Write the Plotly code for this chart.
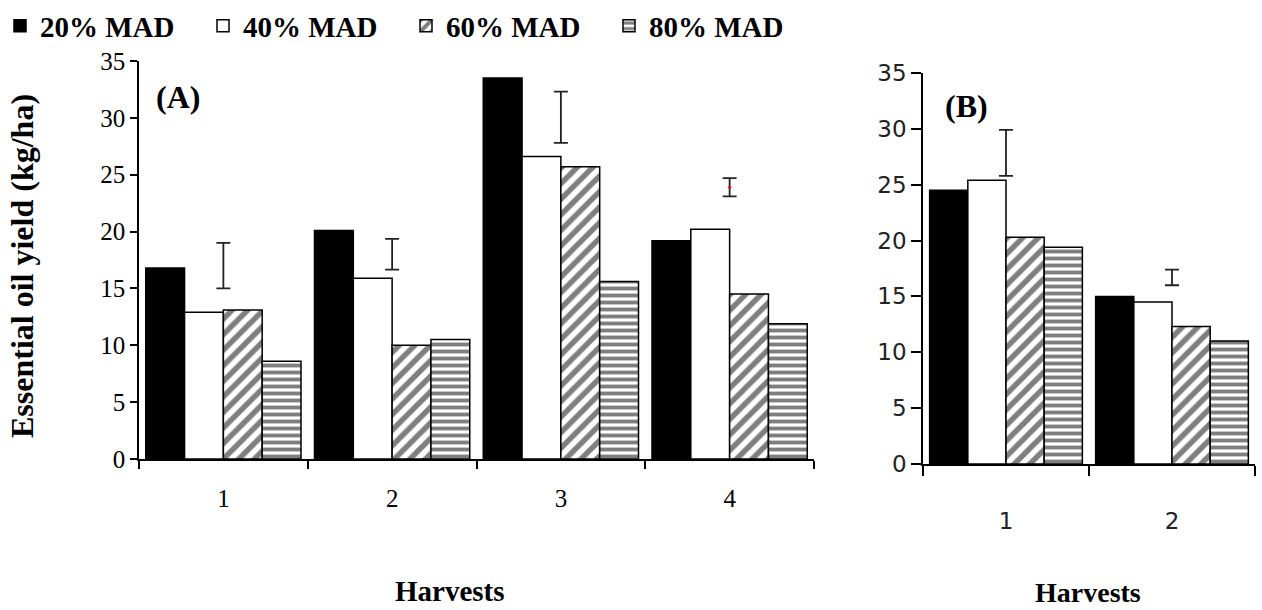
import plotly.graph_objects as go

# ---------------- data ----------------
series_names = ["20% MAD", "40% MAD", "60% MAD", "80% MAD"]

harvests_a = ["1", "2", "3", "4"]
mad20_a = [16.8, 20.1, 33.5, 19.2]
mad40_a = [12.9, 15.9, 26.6, 20.2]
mad60_a = [13.1, 10.0, 25.7, 14.5]
mad80_a = [8.6, 10.5, 15.6, 11.9]
lsd_center_a = [17.0, 18.0, 30.05, 23.9]
lsd_half_a = [2.0, 1.35, 2.25, 0.8]

harvests_b = ["1", "2"]
mad20_b = [24.5, 15.0]
mad40_b = [25.4, 14.5]
mad60_b = [20.3, 12.3]
mad80_b = [19.4, 11.0]
lsd_center_b = [27.85, 16.7]
lsd_half_b = [2.05, 0.7]

y_ticks = [0, 5, 10, 15, 20, 25, 30, 35]

# ---------------- styles ----------------
W, H = 1262, 610
styles = [
    dict(color="black", pattern=dict(shape="")),
    dict(color="white", pattern=dict(shape="")),
    dict(color="white", pattern=dict(shape="/", fgcolor="black", bgcolor="white", size=11, solidity=0.5)),
    dict(color="white", pattern=dict(shape="-", fgcolor="black", bgcolor="white", size=7, solidity=0.55)),
]

fig = go.Figure()
vals_a = [mad20_a, mad40_a, mad60_a, mad80_a]
vals_b = [mad20_b, mad40_b, mad60_b, mad80_b]

for i, name in enumerate(series_names):
    st = styles[i]
    fig.add_trace(go.Bar(
        x=harvests_a, y=vals_a[i], name=name, legendgroup=name,
        marker=dict(color=st["color"], pattern=st["pattern"],
                    line=dict(color="black", width=1.5)),
        xaxis="x", yaxis="y", showlegend=True,
    ))
for i, name in enumerate(series_names):
    st = styles[i]
    fig.add_trace(go.Bar(
        x=harvests_b, y=vals_b[i], name=name, legendgroup=name,
        marker=dict(color=st["color"], pattern=st["pattern"],
                    line=dict(color="black", width=1.5)),
        xaxis="x2", yaxis="y2", showlegend=False,
    ))

# LSD error bars
fig.add_trace(go.Scatter(
    x=harvests_a, y=lsd_center_a, mode="markers",
    marker=dict(size=3, color=["rgba(0,0,0,0)", "rgba(0,0,0,0)", "rgba(0,0,0,0)", "red"]),
    error_y=dict(type="data", array=lsd_half_a, color="#222222", thickness=1.8, width=7),
    xaxis="x", yaxis="y", showlegend=False, hoverinfo="skip",
))
fig.add_trace(go.Scatter(
    x=harvests_b, y=lsd_center_b, mode="markers",
    marker=dict(size=3, color="rgba(0,0,0,0)"),
    error_y=dict(type="data", array=lsd_half_b, color="#222222", thickness=1.8, width=7),
    xaxis="x2", yaxis="y2", showlegend=False, hoverinfo="skip",
))

serif = "Liberation Serif"
axis_common = dict(showline=True, linecolor="black", linewidth=1.5, showgrid=False,
                   zeroline=False, ticks="outside", tickcolor="black", tickwidth=1.5,
                   automargin=False)

fig.update_layout(
    width=W, height=H,
    margin=dict(l=0, r=0, t=0, b=0, autoexpand=False),
    paper_bgcolor="white", plot_bgcolor="white",
    barmode="group", bargap=0.08, bargroupgap=0,
    showlegend=True,
    legend=dict(orientation="h", x=0, xanchor="left", y=1 - 26 / H, yanchor="middle",
                font=dict(family=serif, size=29, color="black", weight="bold"),
                entrywidth=158, entrywidthmode="pixels",
                itemclick=False, itemdoubleclick=False, bgcolor="rgba(0,0,0,0)"),
    xaxis=dict(domain=[139 / W, 814 / W], anchor="y", type="category",
               tickson="boundaries", ticklen=8,
               tickfont=dict(family=serif, size=25, color="black"),
               ticklabelstandoff=16, **axis_common),
    yaxis=dict(domain=[(H - 459) / H, (H - 61) / H], anchor="x", range=[0, 35],
               tickvals=y_ticks, ticklen=7,
               tickfont=dict(family=serif, size=25, color="black"), **axis_common),
    xaxis2=dict(domain=[923 / W, 1255 / W], anchor="y2", type="category",
                tickson="boundaries", ticklen=10,
                tickfont=dict(family="DejaVu Sans", size=23, color="#222222"),
                ticklabelstandoff=36, **axis_common),
    yaxis2=dict(domain=[(H - 464) / H, (H - 73) / H], anchor="x2", range=[0, 35],
                tickvals=y_ticks, ticklen=10,
                tickfont=dict(family="DejaVu Sans", size=23, color="#222222"), **axis_common),
    annotations=[
        dict(text="<b>Essential oil yield (kg/ha)</b>", x=22 / W, y=1 - 266 / H,
             xref="paper", yref="paper", textangle=-90, showarrow=False,
             font=dict(family=serif, size=32, color="black"), xanchor="center", yanchor="middle"),
        dict(text="<b>Harvests</b>", x=450 / W, y=1 - 591 / H, xref="paper", yref="paper",
             showarrow=False, font=dict(family=serif, size=29, color="black"),
             xanchor="center", yanchor="middle"),
        dict(text="<b>Harvests</b>", x=1088 / W, y=1 - 592 / H, xref="paper", yref="paper",
             showarrow=False, font=dict(family=serif, size=28, color="black"),
             xanchor="center", yanchor="middle"),
        dict(text="<b>(A)</b>", x=178 / W, y=1 - 97 / H, xref="paper", yref="paper",
             showarrow=False, font=dict(family=serif, size=32, color="black"),
             xanchor="center", yanchor="middle"),
        dict(text="<b>(B)</b>", x=966 / W, y=1 - 106 / H, xref="paper", yref="paper",
             showarrow=False, font=dict(family=serif, size=32, color="black"),
             xanchor="center", yanchor="middle"),
    ],
)

fig.write_html("out.html")
